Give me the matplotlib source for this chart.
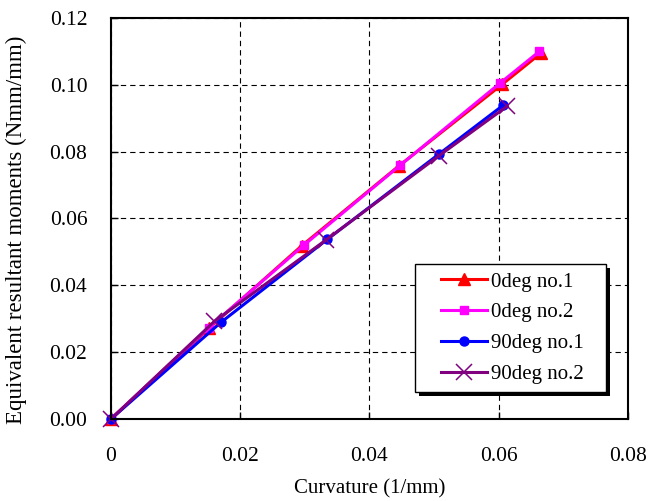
import matplotlib
matplotlib.use("Agg")
import matplotlib.pyplot as plt
from matplotlib.patches import Rectangle

# data
x_0deg1 = [0.0, 0.0152, 0.0295, 0.0446, 0.0605, 0.0666]
y_0deg1 = [0.0, 0.0272, 0.0518, 0.0758, 0.1001, 0.1096]
x_0deg2 = [0.0, 0.0151, 0.0299, 0.0448, 0.0602, 0.0663]
y_0deg2 = [0.0, 0.0273, 0.0521, 0.0760, 0.1005, 0.1100]
x_90deg1 = [0.0, 0.0170, 0.0335, 0.0507, 0.0607]
y_90deg1 = [0.0, 0.0289, 0.0538, 0.0792, 0.0939]
x_90deg2 = [0.0, 0.0160, 0.0333, 0.0507, 0.0613]
y_90deg2 = [0.0, 0.0292, 0.0536, 0.0787, 0.0936]

xticks = [0, 0.02, 0.04, 0.06, 0.08]
xticklabels = ["0", "0.02", "0.04", "0.06", "0.08"]
yticks = [0.0, 0.02, 0.04, 0.06, 0.08, 0.10, 0.12]

plt.rcParams["font.family"] = ["Liberation Serif", "DejaVu Serif"]
plt.rcParams["font.size"] = 15.5

fig = plt.figure(figsize=(6.49, 5.01), dpi=100)
ax = fig.add_axes([0.171, 0.1637, 0.7966, 0.8004])

ax.plot(x_0deg1, y_0deg1, "-^", color="#ff0000", lw=2.2, ms=8, label="0deg no.1", clip_on=False)
ax.plot(x_0deg2, y_0deg2, "-s", color="#ff00ff", lw=2.2, ms=6, label="0deg no.2", clip_on=False)
ax.plot(x_90deg1, y_90deg1, "-o", color="#0000ff", lw=2.2, ms=6.5, label="90deg no.1", clip_on=False)
ax.plot(x_90deg2, y_90deg2, "-x", color="#800080", lw=2.2, ms=12, mew=1.1, label="90deg no.2", clip_on=False)

ax.set_xlim(0, 0.08)
ax.set_ylim(0, 0.12)
ax.set_xticks(xticks)
ax.set_xticklabels(xticklabels)
ax.set_yticks(yticks)
ax.set_yticklabels([f"{v:.2f}" for v in yticks])
ax.tick_params(axis="both", direction="in", length=5, width=1, colors="black")
ax.tick_params(axis="y", pad=17)
ax.tick_params(axis="x", pad=20)
ax.grid(True, color="black", ls=(0, (4.8, 3.6)), lw=0.8)
for s in ax.spines.values():
    s.set_linewidth(1.5)

ax.set_xlabel("Curvature (1/mm)", labelpad=10, fontsize=15)
ax.set_ylabel("Equivalent resultant moments (Nmm/mm)", fontsize=16.5)
ax.yaxis.set_label_coords(-0.1625, 0.471)

# legend box with a hard black drop shadow (Excel style)
bx, by, bw, bh = 0.588, 0.067, 0.3695, 0.3195
ax.add_patch(Rectangle((bx + 0.0077, by - 0.01), bw, bh, transform=ax.transAxes,
                       facecolor="black", edgecolor="none", zorder=4.4, clip_on=False))
ax.add_patch(Rectangle((bx, by), bw, bh, transform=ax.transAxes,
                       facecolor="white", edgecolor="black", lw=1, zorder=4.5, clip_on=False))
leg = ax.legend(loc="center", bbox_to_anchor=(bx + bw / 2 + 0.004, by + bh / 2),
                frameon=False, handlelength=2.2, fontsize=15,
                borderpad=0, labelspacing=0.54, handletextpad=0.2)
leg.set_zorder(5)

fig.savefig("out.png", dpi=100, facecolor="white")
